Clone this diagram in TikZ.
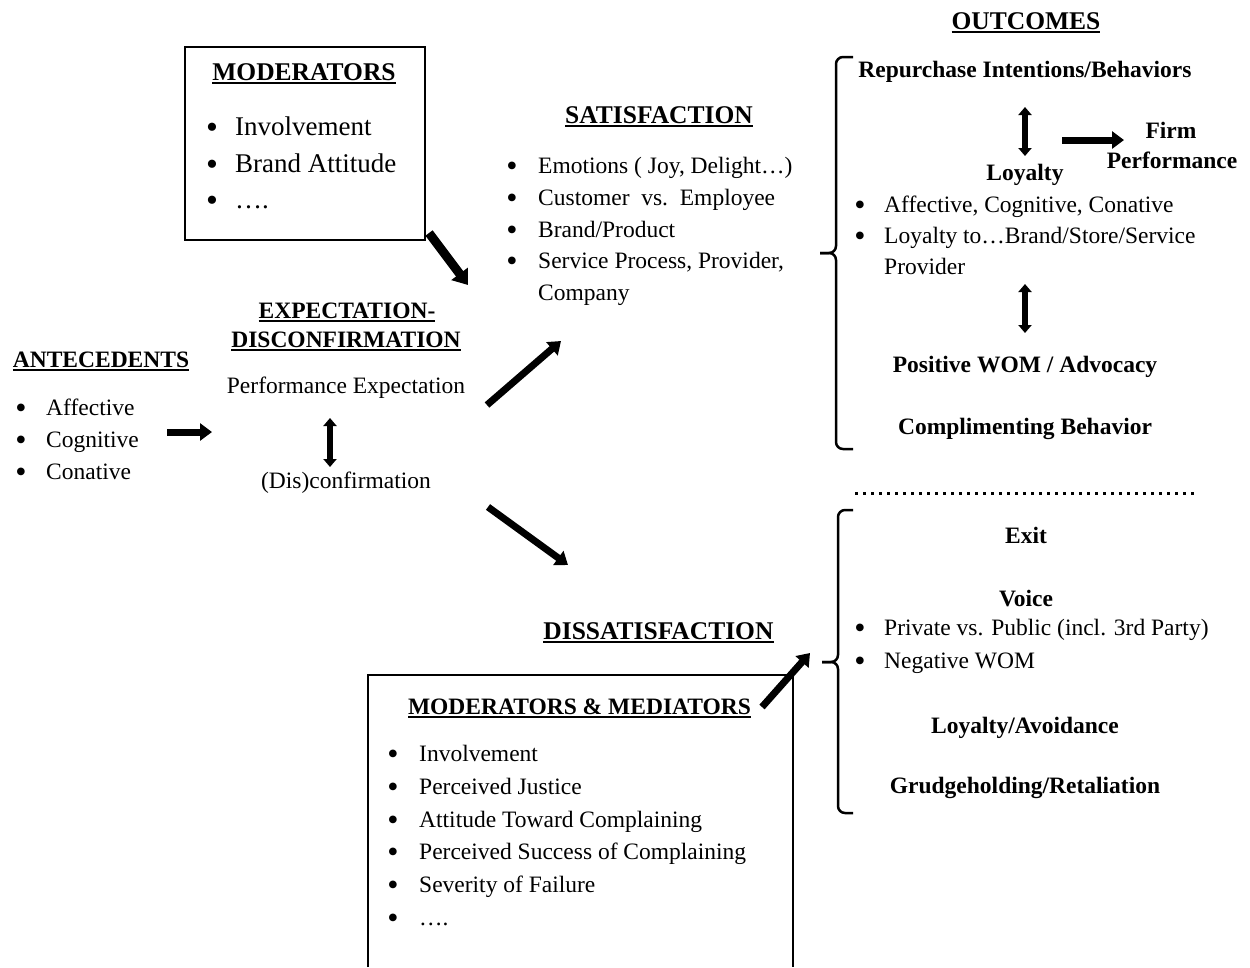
\documentclass[tikz,border=0pt]{standalone}
\usepackage{fontspec}
\setmainfont{Liberation Serif}
\usetikzlibrary{arrows.meta}
\newcommand\myul[1]{\setbox0=\hbox{#1}\rlap{\rule[-4.2pt]{\wd0}{1.8pt}}\box0}
\begin{document}
\begin{tikzpicture}[x=1pt,y=-1pt,
  bodytxt/.style={inner sep=0pt, anchor=base, font=\fontsize{23.5}{28}\selectfont},
  bodyl/.style={bodytxt, anchor=base west},
  boldtxt/.style={bodytxt, font=\fontsize{23.5}{28}\selectfont\bfseries},
  hd/.style={inner sep=0pt, anchor=base, font=\fontsize{25.5}{30}\selectfont\bfseries},
  modtxt/.style={inner sep=0pt, anchor=base west, font=\fontsize{27}{30}\selectfont},
  bull/.style={inner sep=0pt, anchor=base, yshift=-3pt, font=\fontsize{32}{34}\selectfont},
  bullbig/.style={inner sep=0pt, anchor=base, yshift=-3pt, font=\fontsize{34}{36}\selectfont},
  fatarrow/.style={line width=7pt, -{Triangle[length=12pt,width=17pt]}},
  widearrow/.style={line width=9pt, -{Triangle[length=14pt,width=20pt]}},
  dblarrow/.style={line width=5.5pt, {Triangle[length=8pt,width=13pt]}-{Triangle[length=8pt,width=13pt]}},
  boxframe/.style={draw, line width=2.5pt},
  bracepath/.style={line width=2.5pt, rounded corners=7pt},
]
\useasboundingbox (0,0) rectangle (1250,967);

% ---------- Moderators box ----------
\node[boxframe, inner sep=0pt, minimum width=240pt, minimum height=193pt] (modbox) at (305,143.5) {};
\node[hd] (modtitle) at (304,80) {\myul{MODERATORS}};
\node[bullbig] (mbA) at (212,135) {•}; \node[modtxt] (mA) at (235,135) {Involvement};
\node[bullbig] (mbB) at (212,172) {•}; \node[modtxt] (mB) at (235,172) {Brand Attitude};
\node[bullbig] (mbC) at (212,208) {•}; \node[modtxt] (mC) at (235,208) {….};
\coordinate (modS) at (429,233); \coordinate (modE) at (468,285);
\draw[widearrow] (modS) -- (modE);

% ---------- Antecedents ----------
\node[boldtxt] (ant) at (101,367) {\myul{ANTECEDENTS}};
\node[bull] (abA) at (21,415) {•}; \node[bodyl] (aA) at (46,415) {Affective};
\node[bull] (abB) at (21,447) {•}; \node[bodyl] (aB) at (46,447) {Cognitive};
\node[bull] (abC) at (21,479) {•}; \node[bodyl] (aC) at (46,479) {Conative};
\coordinate (antS) at (167,432); \coordinate (antE) at (212,432);
\draw[fatarrow] (antS) -- (antE);

% ---------- Expectation-disconfirmation ----------
\node[boldtxt] (expA) at (347,318) {\myul{EXPECTATION-}};
\node[boldtxt] (expB) at (346,347) {\myul{DISCONFIRMATION}};
\node[bodytxt] (perf) at (346,393) {Performance Expectation};
\node[bodytxt] (disc) at (346,488) {(Dis)confirmation};
\coordinate (pdA) at (330,418); \coordinate (pdB) at (330,467);
\draw[dblarrow] (pdA) -- (pdB);
\coordinate (upS) at (487,405); \coordinate (upE) at (561,341);
\draw[fatarrow] (upS) -- (upE);
\coordinate (dnS) at (488,507); \coordinate (dnE) at (568,565);
\draw[fatarrow] (dnS) -- (dnE);

% ---------- Satisfaction ----------
\node[hd] (sat) at (659,123) {\myul{SATISFACTION}};
\node[bull] (sbA) at (512,173) {•}; \node[bodyl] (sA) at (538,173) {Emotions ( Joy, Delight…)};
\node[bull] (sbB) at (512,205) {•}; \node[bodyl] (sB) at (538,205) {Customer~~vs.~~Employee};
\node[bull] (sbC) at (512,237) {•}; \node[bodyl] (sC) at (538,237) {Brand/Product};
\node[bull] (sbD) at (512,268) {•}; \node[bodyl] (sD) at (538,268) {Service Process, Provider,};
\node[bodyl] (sE) at (538,300) {Company};

% ---------- Outcomes (positive) ----------
\node[hd] (out) at (1026,29) {\myul{OUTCOMES}};
\draw[bracepath] (853,57) -- (836,57) -- (836,253) -- (820,253);
\draw[bracepath] (820,253) -- (836,253) -- (836,449) -- (853,449);
\node[boldtxt] (rep) at (1025,77) {Repurchase Intentions/Behaviors};
\coordinate (rlA) at (1025,107); \coordinate (rlB) at (1025,156);
\draw[dblarrow] (rlA) -- (rlB);
\coordinate (fpS) at (1062,140); \coordinate (fpE) at (1124,140);
\draw[fatarrow] (fpS) -- (fpE);
\node[boldtxt] (firmA) at (1171,138) {Firm};
\node[boldtxt] (firmB) at (1172,168) {Performance};
\node[boldtxt] (loy) at (1025,180) {Loyalty};
\node[bull] (lbA) at (860,212) {•}; \node[bodyl] (lA) at (884,212) {Affective, Cognitive, Conative};
\node[bull] (lbB) at (860,243) {•}; \node[bodyl] (lB) at (884,243) {Loyalty to…Brand/Store/Service};
\node[bodyl] (lC) at (884,274) {Provider};
\coordinate (lwA) at (1025,284); \coordinate (lwB) at (1025,333);
\draw[dblarrow] (lwA) -- (lwB);
\node[boldtxt] (wom) at (1025,372) {Positive WOM / Advocacy};
\node[boldtxt] (comp) at (1025,434) {Complimenting Behavior};

\coordinate (sepA) at (855,493); \coordinate (sepB) at (1198,493);
\draw[line width=3pt, dash pattern=on 3pt off 5pt] (sepA) -- (sepB);

% ---------- Outcomes (negative) ----------
\draw[bracepath] (853,510) -- (838,510) -- (838,662) -- (822,662);
\draw[bracepath] (822,662) -- (838,662) -- (838,813) -- (853,813);
\node[boldtxt] (exit) at (1026,543) {Exit};
\node[boldtxt] (voice) at (1026,606) {Voice};
\node[bull] (vbA) at (860,635) {•}; \node[bodyl] (vA) at (884,635) {Private vs. Public (incl. 3rd Party)};
\node[bull] (vbB) at (860,668) {•}; \node[bodyl] (vB) at (884,668) {Negative WOM};
\node[boldtxt] (avoid) at (1025,733) {Loyalty/Avoidance};
\node[boldtxt] (grudge) at (1025,793) {Grudgeholding/Retaliation};

% ---------- Dissatisfaction ----------
\node[hd] (dis) at (658.5,639) {\myul{DISSATISFACTION}};
\draw[line width=2.5pt] (368,967) |- (793,675) -- (793,967);
\node[boldtxt] (mm) at (579.5,714) {\myul{MODERATORS \& MEDIATORS}};
\node[bull] (dbA) at (393,761) {•}; \node[bodyl] (dA) at (419,761) {Involvement};
\node[bull] (dbB) at (393,794) {•}; \node[bodyl] (dB) at (419,794) {Perceived Justice};
\node[bull] (dbC) at (393,827) {•}; \node[bodyl] (dC) at (419,827) {Attitude Toward Complaining};
\node[bull] (dbD) at (393,859) {•}; \node[bodyl] (dD) at (419,859) {Perceived Success of Complaining};
\node[bull] (dbE) at (393,892) {•}; \node[bodyl] (dE) at (419,892) {Severity of Failure};
\node[bull] (dbF) at (393,925) {•}; \node[bodyl] (dF) at (419,925) {….};
\coordinate (mmS) at (762,707); \coordinate (mmE) at (810,653);
\draw[fatarrow] (mmS) -- (mmE);
\end{tikzpicture}
\end{document}
